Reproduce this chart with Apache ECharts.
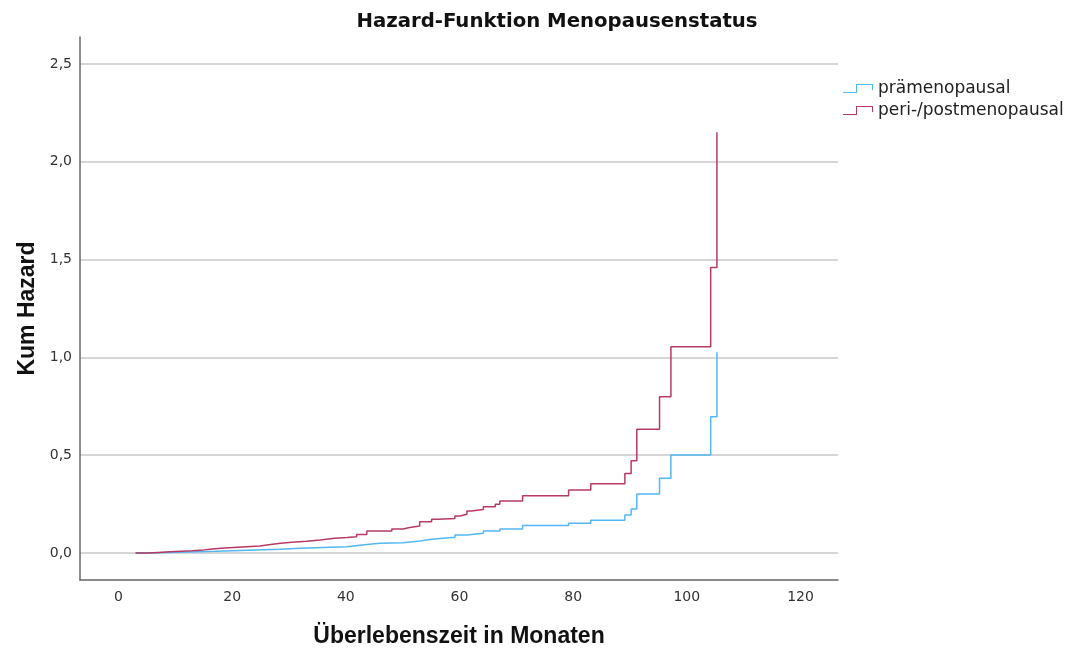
<!DOCTYPE html>
<html>
<head>
<meta charset="utf-8">
<script src="https://cdn.jsdelivr.net/npm/echarts@6/dist/echarts.min.js"></script>
<style>html,body{margin:0;padding:0;background:#fff}#c{width:1076px;height:651px}</style>
</head>
<body>
<div id="c"></div>
<script>
var seriesNames = ['prämenopausal', 'peri-/postmenopausal'];
var xTicks = [0, 20, 40, 60, 80, 100, 120];
var yTicks = [0, 0.5, 1.0, 1.5, 2.0, 2.5];
// [time, cumulative hazard]
var praeData = [[3,0],[6,0.002],[8.5,0.004],[10.8,0.007],[14,0.009],[17,0.012],[20.2,0.015],[24,0.019],[28.4,0.024],[32,0.028],[36,0.032],[40.2,0.036],[41.3,0.044],[43.7,0.05],[46,0.053],[50.1,0.061],[53,0.070],[55.1,0.080],[59.2,0.092],[61.3,0.101],[64.2,0.112],[67.1,0.123],[71.1,0.140],[79.2,0.152],[83.1,0.167],[89.1,0.194],[90.2,0.225],[91.2,0.302],[95.2,0.382],[97.2,0.501],[104.2,0.697],[105.3,1.026]];
var postData = [[3,0],[5,0.003],[7,0.006],[9,0.009],[11,0.012],[13,0.016],[15,0.019],[16.1,0.024],[18,0.028],[20.2,0.032],[22.5,0.036],[24.9,0.041],[26.1,0.05],[28.5,0.055],[30.5,0.06],[33.1,0.066],[35.5,0.075],[38,0.079],[40.2,0.083],[41.9,0.095],[43.7,0.112],[48.1,0.123],[50.1,0.129],[51,0.138],[53,0.16],[55.1,0.172],[56.3,0.177],[59.2,0.189],[60.1,0.198],[61.3,0.215],[62.1,0.223],[64.2,0.237],[66.3,0.249],[67.1,0.266],[71.1,0.293],[79.2,0.322],[83.1,0.354],[89.1,0.407],[90.2,0.472],[91.2,0.633],[95.2,0.799],[97.2,1.055],[104.2,1.459],[105.3,2.151]];
var colors = ['#52b7f4', '#b73a63'];

var chart = echarts.init(document.getElementById('c'));
var fmt = function (v) { return (Math.round(v * 10) / 10).toFixed(1).replace('.', ','); };
var icon = 'path://M0,8 L13,8 L13,0 L30,0 L30,6 L29,6 L29,1 L14,1 L14,9 L0,9 Z';
chart.setOption({
  animation: false,
  backgroundColor: '#fff',
  title: {
    text: 'Hazard-Funktion Menopausenstatus',
    left: 552, top: 7, textAlign: 'center',
    textStyle: { fontFamily: 'DejaVu Sans', fontWeight: 'bold', fontSize: 19.7, color: '#111' }
  },
  legend: {
    orient: 'vertical', left: 838, top: 75, itemGap: 5,
    itemWidth: 30, itemHeight: 9,
    textStyle: { fontFamily: 'DejaVu Sans', fontSize: 17, color: '#222' },
    data: [
      { name: seriesNames[0], icon: icon },
      { name: seriesNames[1], icon: icon }
    ]
  },
  grid: { left: 80, right: 238, top: 37, bottom: 71, outerBoundsMode: 'none', containLabel: false },
  xAxis: {
    type: 'value', min: -6.77, max: 126.6,
    name: 'Überlebenszeit in Monaten', nameLocation: 'middle', nameGap: 45,
    nameTextStyle: { fontFamily: 'Liberation Sans', fontWeight: 'bold', fontSize: 23, color: '#111' },
    axisLine: { show: true, onZero: false, lineStyle: { color: '#666', width: 1.5 } },
    axisTick: { show: false, customValues: xTicks },
    axisLabel: { customValues: xTicks, margin: 10, fontFamily: 'DejaVu Sans', fontSize: 14, color: '#333', formatter: function (v) { return String(v); } },
    splitLine: { show: false }
  },
  yAxis: {
    type: 'value', min: -0.138, max: 2.638,
    name: 'Kum Hazard', nameLocation: 'middle', nameGap: 37,
    nameTextStyle: { fontFamily: 'Liberation Sans', fontWeight: 'bold', fontSize: 23, color: '#111' },
    axisLine: { show: true, onZero: false, lineStyle: { color: '#666', width: 1.5 } },
    axisTick: { show: false, customValues: yTicks },
    axisLabel: { customValues: yTicks, margin: 8, fontFamily: 'DejaVu Sans', fontSize: 14, color: '#333', formatter: fmt },
    splitLine: { show: true, lineStyle: { color: '#c8c8c8', width: 1.5 } }
  },
  series: [
    { name: seriesNames[0], type: 'line', step: 'end', showSymbol: false, symbol: 'none', data: praeData, color: colors[0], lineStyle: { width: 1.5, color: colors[0] }, z: 3 },
    { name: seriesNames[1], type: 'line', step: 'end', showSymbol: false, symbol: 'none', data: postData, color: colors[1], lineStyle: { width: 1.5, color: colors[1] }, z: 4 }
  ]
});
</script>
</body>
</html>
